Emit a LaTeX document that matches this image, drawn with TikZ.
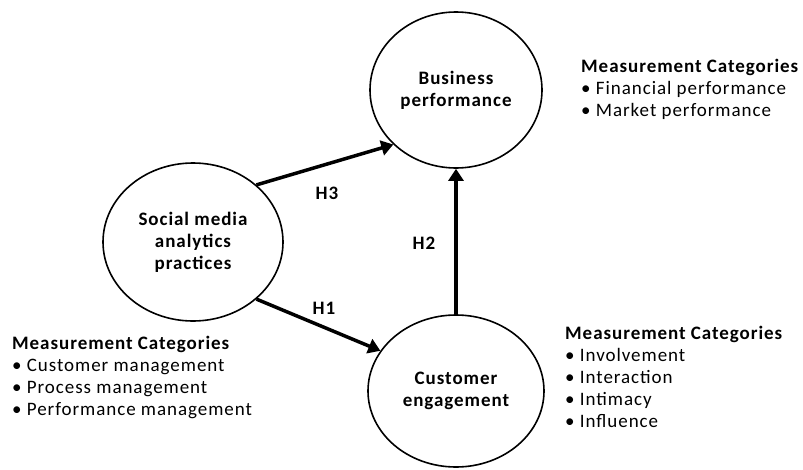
\documentclass[tikz,border=0pt]{standalone}
\usepackage{fontspec}
\setmainfont{Carlito}[LetterSpace=5.0]
\usepackage{tikz}
\usetikzlibrary{arrows.meta,shapes.geometric,positioning}

\tikzset{
  construct/.style={ellipse, draw, line width=1.6pt, align=center, inner sep=0pt,
    font=\fontsize{19}{22}\selectfont\bfseries},
  hyp/.style={line width=3.5pt, -{Triangle[length=12pt,width=15pt]}},
  hlab/.style={font=\fontsize{19}{22}\selectfont\bfseries},
  cats/.style={align=left, anchor=north west, inner sep=0pt,
    font=\fontsize{19}{22}\selectfont}
}

\begin{document}
\begin{tikzpicture}[x=1pt,y=-1pt]
\useasboundingbox (0,0) rectangle (803,469);

% constructs
\node[construct, minimum width=172, minimum height=156] (bp) at (456,90) {Business\\performance};
\node[construct, minimum width=180, minimum height=158] (sma) at (193,242) {Social media\\analytics\\practices};
\node[construct, minimum width=176, minimum height=152] (ce) at (456,391) {Customer\\engagement};

% hypotheses
\draw[hyp] (sma.42) -- (bp.221);
\draw[hyp] (sma.318) -- (ce.152);
\draw[hyp] (ce.north) -- (bp.south);
\node[hlab] (h3) at (327,193) {H3};
\node[hlab] (h2) at (424,243) {H2};
\node[hlab] (h1) at (324,308) {H1};

% measurement categories
\node[cats] (bpcats) at (581,59) {\textbf{Measurement Categories}\\
  \textbullet\ Financial performance\\
  \textbullet\ Market performance};
\node[cats] (smacats) at (12,336) {\textbf{Measurement Categories}\\
  \textbullet\ Customer management\\
  \textbullet\ Process management\\
  \textbullet\ Performance management};
\node[cats] (cecats) at (565,326) {\textbf{Measurement Categories}\\
  \textbullet\ Involvement\\
  \textbullet\ Interaction\\
  \textbullet\ Intimacy\\
  \textbullet\ Influence};
\end{tikzpicture}
\end{document}
